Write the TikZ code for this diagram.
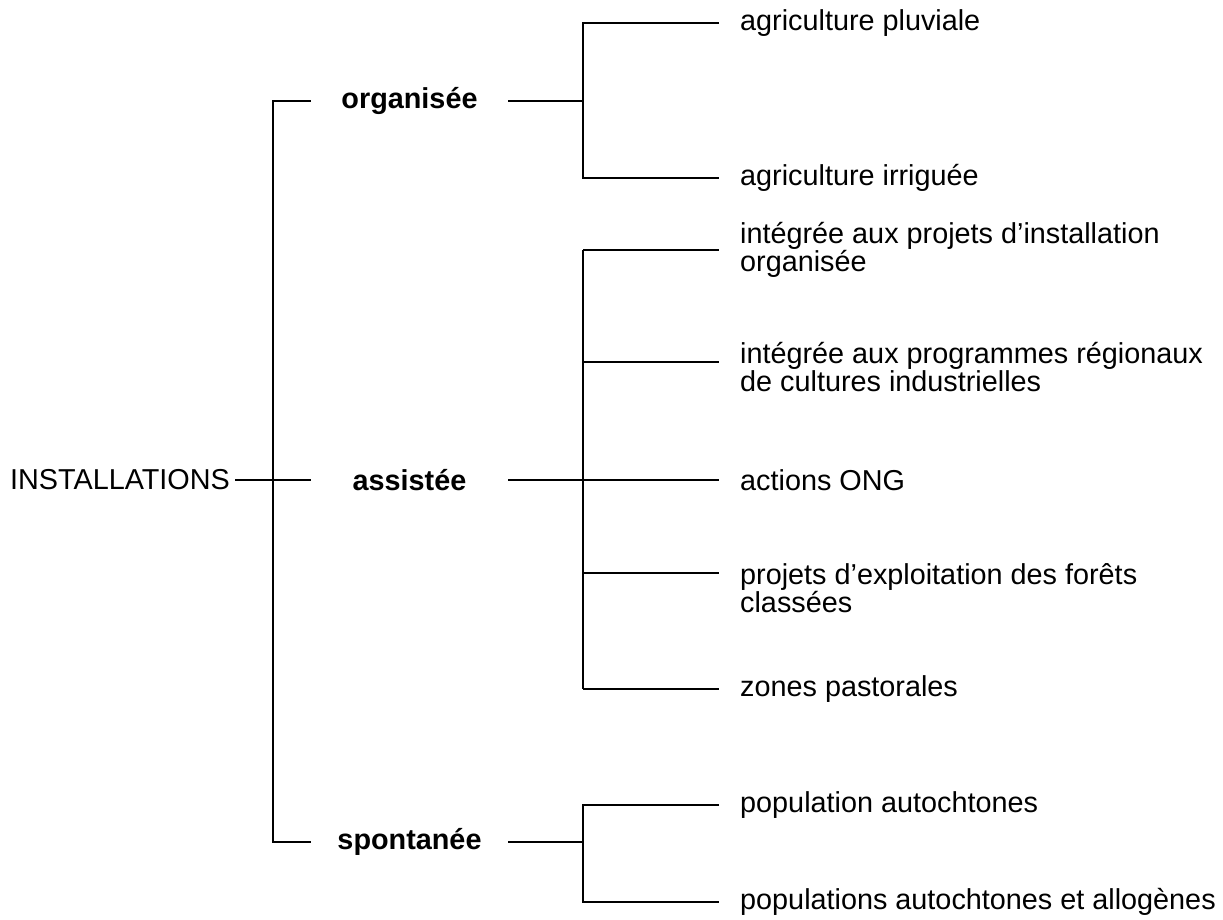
\documentclass[tikz,border=0pt]{standalone}
\usepackage{fontspec}
\setmainfont{Liberation Sans}
\setlength{\lineskiplimit}{-20pt}

\begin{document}
\begin{tikzpicture}[x=0.5pt, y=-0.5pt, line width=1.2pt,
		txt/.style={font=\fontsize{14.4}{14}\selectfont, inner sep=0pt},
		root/.style={txt, inner xsep=2pt},
		kind/.style={txt, font=\fontsize{14.4}{14}\selectfont\bfseries, minimum width=97.5pt},
		leaf/.style={txt, anchor=west, inner xsep=10pt, align=left}]
				\useasboundingbox (0,0) rectangle (1223,920);
				% Nodes:
				\node[root] (inst) at (120,480) {INSTALLATIONS};
				\node[kind] (org) at (409.5,101) {organisée};
				\node[kind] (ass) at (409.5,480) {assistée};
				\node[kind] (spo) at (409.5,842) {spontanée};
				\node[leaf] (pluv) at (719,23) {agriculture pluviale};
				\node[leaf] (irr) at (719,178) {agriculture irriguée};
				\node[leaf] (proj) at (719,250) {intégrée aux projets d'installation\\organisée};
				\node[leaf] (prog) at (719,367) {intégrée aux programmes régionaux\\de cultures industrielles};
				\node[leaf] (ong) at (719,480) {actions ONG};
				\node[leaf] (expl) at (719,588) {projets d'exploitation des forêts\\classées};
				\node[leaf] (past) at (719,689) {zones pastorales};
				\node[leaf] (pop) at (719,805) {population autochtones};
				\node[leaf] (popall) at (719,902) {populations autochtones et allogènes};
				% Junctions:
				\coordinate (j0) at (273,480);
				\coordinate (j1) at (583,101);
				\coordinate (j3) at (583,842);
				\coordinate (p1) at (583,250);
				\coordinate (p2) at (583,362);
				\coordinate (p4) at (583,573);
				\coordinate (p5) at (583,689);
				% Wires:
				\draw (inst) -- (ass);
				\draw (org.west) -| (j0) |- (spo.west);
				\draw (org) -- (j1);
				\draw (pluv.west) -| (j1) |- (irr.west);
				\draw (ass) -- (ong);
				\draw (p1) -- (p5);
				\foreach \p/\n in {p1/proj, p2/prog, p4/expl, p5/past}
					\draw (\p) -- (\p -| \n.west);
				\draw (spo) -- (j3);
				\draw (pop.west) -| (j3) |- (popall.west);
			\end{tikzpicture}
\end{document}
